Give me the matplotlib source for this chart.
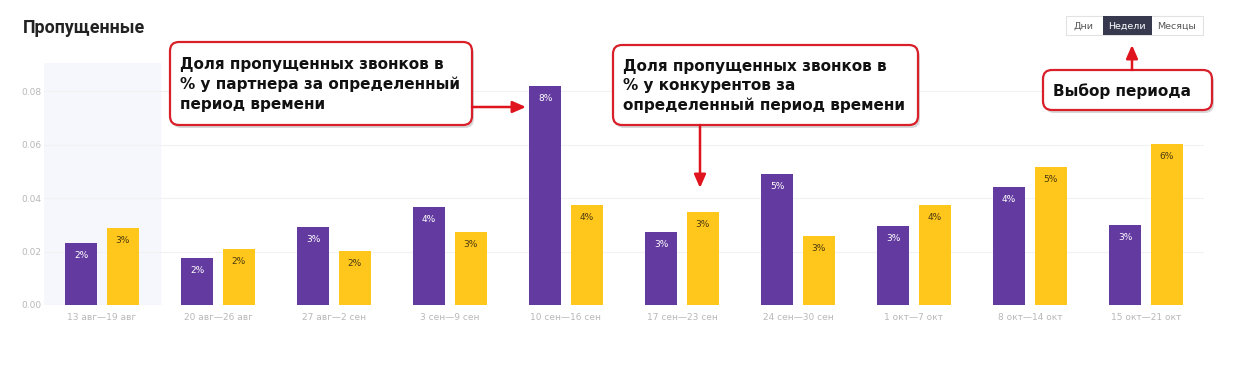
import matplotlib.pyplot as plt
from matplotlib.patches import FancyBboxPatch, Rectangle
import numpy as np

weeks = ['13 авг—19 авг', '20 авг—26 авг', '27 авг—2 сен', '3 сен—9 сен', '10 сен—16 сен',
         '17 сен—23 сен', '24 сен—30 сен', '1 окт—7 окт', '8 окт—14 окт', '15 окт—21 окт']
partner = [0.0233, 0.0175, 0.0292, 0.0366, 0.0819, 0.0274, 0.0489, 0.0294, 0.0440, 0.0300]
rivals = [0.0289, 0.0211, 0.0203, 0.0273, 0.0374, 0.0349, 0.0258, 0.0373, 0.0516, 0.0601]
yticks = [0.0, 0.02, 0.04, 0.06, 0.08]

purple = '#633a9f'
yellow = '#ffc61c'
W, H = 1242, 379

fig = plt.figure(figsize=(W / 100, H / 100), dpi=100)
ax = fig.add_axes([44 / W, (H - 305) / H, 1160 / W, 242 / H])

x = np.arange(len(weeks))
ax.axvspan(-0.5, 0.5, color='#f6f7fd', zorder=0)
bp = ax.bar(x - 0.18, partner, width=0.27, color=purple, zorder=2)
by = ax.bar(x + 0.18, rivals, width=0.27, color=yellow, zorder=2)

for rect, v in zip(bp, partner):
    ax.annotate(f'{round(v * 100):.0f}%', (rect.get_x() + rect.get_width() / 2, v),
                xytext=(0, -9), textcoords='offset points', ha='center', va='center',
                fontsize=6.5, color='white', zorder=3)
for rect, v in zip(by, rivals):
    ax.annotate(f'{round(v * 100):.0f}%', (rect.get_x() + rect.get_width() / 2, v),
                xytext=(0, -9), textcoords='offset points', ha='center', va='center',
                fontsize=6.5, color='#4a3a10', zorder=3)

ax.set_xlim(-0.5, len(weeks) - 0.5)
ax.set_ylim(0, 0.0905)
ax.set_yticks(yticks)
ax.set_yticklabels([f'{t:.2f}' for t in yticks])
ax.set_xticks(x)
ax.set_xticklabels(weeks)
ax.tick_params(length=0, labelsize=6.5, labelcolor='#b8b8b8')
ax.tick_params(axis='x', pad=6)
ax.tick_params(axis='y', pad=2)
for t in yticks:
    ax.axhline(t, color='#f1f1f1', lw=0.8, zorder=1)
for s in ax.spines.values():
    s.set_visible(False)

# overlay in pixel coordinates for title, buttons and callouts
ov = fig.add_axes([0, 0, 1, 1])
ov.set_xlim(0, W)
ov.set_ylim(H, 0)
ov.axis('off')
ov.patch.set_alpha(0)

ov.text(23, 28, 'Пропущенные', fontsize=12.8, fontweight='bold', color='#222222', va='center',
        family='Roboto')

# period buttons
ov.add_patch(Rectangle((1066, 16), 137, 19, facecolor='white', edgecolor='#e2e2e2', lw=0.8))
ov.add_patch(Rectangle((1103, 16), 49, 19, facecolor='#373a4f', edgecolor='none'))
for label, cx, col in [('Дни', 1084, '#555555'), ('Недели', 1127, 'white'), ('Месяцы', 1177, '#555555')]:
    ov.text(cx, 26, label, fontsize=6.8, color=col, ha='center', va='center')


def callout(x0, y0, w, h, lines):
    ov.add_patch(FancyBboxPatch((x0 + 2, y0 + 3), w, h, boxstyle='round,pad=0,rounding_size=9',
                                facecolor='#b0b0b0', edgecolor='none', alpha=0.5, zorder=4))
    ov.add_patch(FancyBboxPatch((x0, y0), w, h, boxstyle='round,pad=0,rounding_size=9',
                                facecolor='white', edgecolor='#d9202a', lw=1.6, zorder=5))
    ov.text(x0 + 10, y0 + h / 2 + 1, lines, fontsize=11, fontweight='bold', color='#111111',
            va='center', ha='left', linespacing=1.35, zorder=6, family='DejaVu Sans')


def arrow(x0, y0, x1, y1):
    ov.annotate('', xy=(x1, y1), xytext=(x0, y0), zorder=6,
                arrowprops=dict(arrowstyle='-|>,head_length=0.8,head_width=0.35',
                                color='#e0141e', lw=1.8, shrinkA=0, shrinkB=0))


callout(170, 42, 302, 83, 'Доля пропущенных звонков в\n% у партнера за определенный\nпериод времени')
arrow(472, 107, 526, 107)
callout(613, 45, 305, 80, 'Доля пропущенных звонков в\n% у конкурентов за\nопределенный период времени')
arrow(700, 125, 700, 188)
callout(1043, 70, 169, 40, 'Выбор периода')
arrow(1132, 70, 1132, 45)

fig.savefig('out.png', dpi=100, facecolor='white')
